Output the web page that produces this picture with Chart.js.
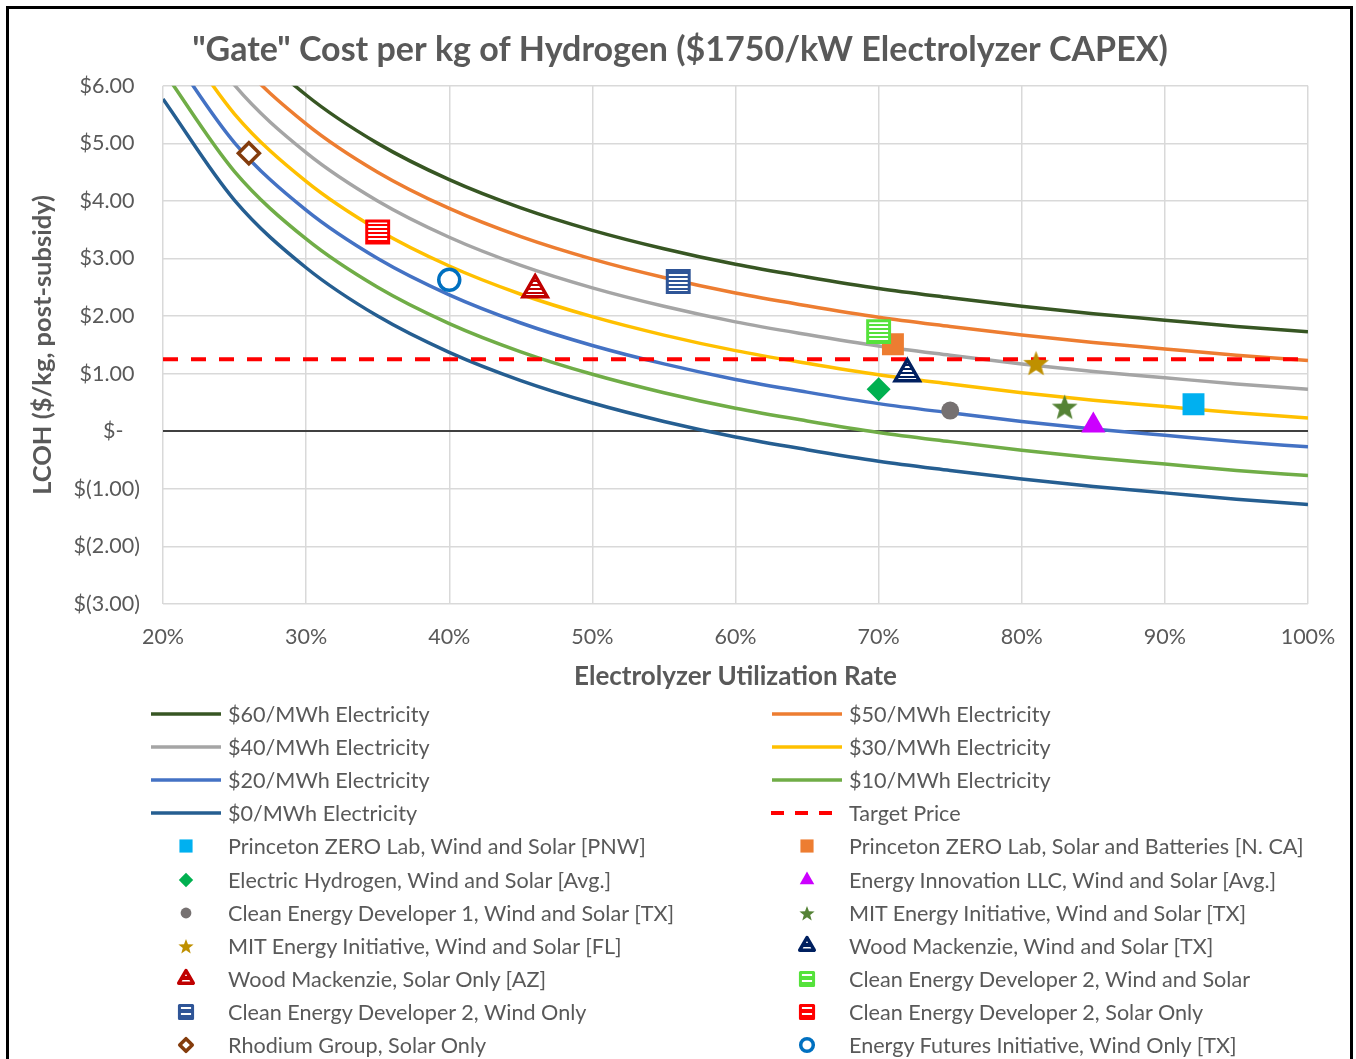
<!DOCTYPE html>
<html>
<head>
<meta charset="utf-8">
<script src="https://cdn.jsdelivr.net/npm/chart.js"></script>
<style>
  html, body { margin: 0; padding: 0; background: #fff; }
  body { width: 1356px; height: 1059px; position: relative; overflow: hidden; font-family: Lato, "Open Sans", sans-serif; }
  #frame { position: absolute; left: 6px; top: 6px; width: 1341px; height: 1100px; border: 3px solid #000; }
  #wrap { position: absolute; left: 0; top: 0; width: 1356px; height: 700px; }
  #legend { position: absolute; left: 150px; top: 697px; display: grid; grid-template-columns: 621px 585px; grid-auto-rows: 33.2px; }
  .item { display: flex; align-items: center; color: #595959; font-size: 21.6px; white-space: nowrap; }
  .item canvas { width: 72px; height: 30px; margin-right: 6px; flex: none; }
</style>
</head>
<body>
<div id="frame"></div>
<div id="wrap"><canvas id="chart"></canvas></div>
<div id="legend"></div>
<script>
// LCOH 曲线 + 各机构估算点

const utilization = [20, 25, 30, 35, 40, 45, 50, 55, 60, 65, 70, 75, 80, 85, 90, 95, 100];

const curveLabels = ['$60/MWh Electricity', '$50/MWh Electricity', '$40/MWh Electricity', '$30/MWh Electricity',
                     '$20/MWh Electricity', '$10/MWh Electricity', '$0/MWh Electricity'];
const curveColors = ['#375623', '#ED7D31', '#A5A5A5', '#FFC000', '#4472C4', '#70AD47', '#255E91'];

const lcoh60 = [8.77, 7.01, 5.84, 5.00, 4.37, 3.88, 3.49, 3.17, 2.90, 2.68, 2.48, 2.32, 2.17, 2.04, 1.93, 1.82, 1.73];
const lcoh50 = [8.27, 6.51, 5.34, 4.50, 3.87, 3.38, 2.99, 2.67, 2.40, 2.18, 1.98, 1.82, 1.67, 1.54, 1.43, 1.32, 1.23];
const lcoh40 = [7.77, 6.01, 4.84, 4.00, 3.37, 2.88, 2.49, 2.17, 1.90, 1.68, 1.48, 1.32, 1.17, 1.04, 0.93, 0.82, 0.73];
const lcoh30 = [7.27, 5.51, 4.34, 3.50, 2.87, 2.38, 1.99, 1.67, 1.40, 1.18, 0.98, 0.82, 0.67, 0.54, 0.43, 0.32, 0.23];
const lcoh20 = [6.77, 5.01, 3.84, 3.00, 2.37, 1.88, 1.49, 1.17, 0.90, 0.68, 0.48, 0.32, 0.17, 0.04, -0.07, -0.18, -0.27];
const lcoh10 = [6.27, 4.51, 3.34, 2.50, 1.87, 1.38, 0.99, 0.67, 0.40, 0.18, -0.02, -0.18, -0.33, -0.46, -0.57, -0.68, -0.77];
const lcoh0  = [5.77, 4.01, 2.84, 2.00, 1.37, 0.88, 0.49, 0.17, -0.10, -0.32, -0.52, -0.68, -0.83, -0.96, -1.07, -1.18, -1.27];
const curveValues = [lcoh60, lcoh50, lcoh40, lcoh30, lcoh20, lcoh10, lcoh0];

const targetX = [20, 100];
const targetY = [1.25, 1.25];

const markerNames = [
  'Princeton ZERO Lab, Wind and Solar [PNW]',
  'Princeton ZERO Lab, Solar and Batteries [N. CA]',
  'Electric Hydrogen, Wind and Solar [Avg.]',
  'Energy Innovation LLC, Wind and Solar [Avg.]',
  'Clean Energy Developer 1, Wind and Solar [TX]',
  'MIT Energy Initiative, Wind and Solar [TX]',
  'MIT Energy Initiative, Wind and Solar [FL]',
  'Wood Mackenzie, Wind and Solar [TX]',
  'Wood Mackenzie, Solar Only [AZ]',
  'Clean Energy Developer 2, Wind and Solar',
  'Clean Energy Developer 2, Wind Only',
  'Clean Energy Developer 2, Solar Only',
  'Rhodium Group, Solar Only',
  'Energy Futures Initiative, Wind Only [TX]',
];
const markerX = [92, 71, 70, 85, 75, 83, 81, 72, 46, 70, 56, 35, 26, 40];
const markerY = [0.47, 1.51, 0.73, 0.10, 0.36, 0.42, 1.18, 1.00, 2.46, 1.73, 2.60, 3.46, 4.83, 2.63];
const markerColors = ['#00B0F0', '#ED7D31', '#00B050', '#CC00FF', '#767171', '#548235', '#BF9000',
                      '#002060', '#C00000', '#55E23B', '#2F5597', '#FF0000', '#843C0C', '#0070C0'];
const markerShapes = ['square', 'square', 'diamond', 'triangle', 'circle', 'star', 'star',
                      'stripedTriangle', 'stripedTriangle', 'stripedSquare', 'stripedSquare', 'stripedSquare',
                      'hollowDiamond', 'hollowCircle'];

const TEXT = '#595959';
const FONT = 'Lato, "Open Sans", sans-serif';

// ── 标记样式 ─────────────────────────────────────────────
function stripes(ctx, color, period) {
  const c = document.createElement('canvas');
  c.width = 4; c.height = period;
  const g = c.getContext('2d');
  g.fillStyle = color; g.fillRect(0, 0, 4, period);
  g.fillStyle = '#fff'; g.fillRect(0, period - 2, 4, 2);
  return ctx.createPattern(c, 'repeat');
}

function starImage(color, size) {
  const c = document.createElement('canvas');
  c.width = c.height = size;
  const g = c.getContext('2d');
  const R = size / 2, r = R * 0.42;
  g.beginPath();
  for (let i = 0; i < 10; i++) {
    const a = -Math.PI / 2 + i * Math.PI / 5;
    const rr = i % 2 ? r : R;
    g.lineTo(R + rr * Math.cos(a), R + 1 + rr * Math.sin(a));
  }
  g.closePath();
  g.fillStyle = color;
  g.fill();
  return c;
}

// k: 尺寸缩放, w: 边框宽度缩放, p: 条纹周期
function markerStyle(shape, color, k, w, p, ctx) {
  switch (shape) {
    case 'square':          return { pointStyle: 'rect', radius: 15.5 * k, bg: color, border: color, bw: 0 };
    case 'diamond':         return { pointStyle: 'rectRot', radius: 12 * k, bg: color, border: color, bw: 0 };
    case 'triangle':        return { pointStyle: 'triangle', radius: 14 * k, bg: color, border: color, bw: 0 };
    case 'circle':          return { pointStyle: 'circle', radius: 9 * k, bg: color, border: color, bw: 0 };
    case 'star':            return { pointStyle: starImage(color, Math.round(27 * k)), radius: 13 * k, bg: color, border: color, bw: 0 };
    case 'stripedTriangle': return { pointStyle: 'triangle', radius: 14 * k, bg: stripes(ctx, color, p), border: color, bw: 3.5 * w };
    case 'stripedSquare':   return { pointStyle: 'rect', radius: 15.5 * k, bg: stripes(ctx, color, p), border: color, bw: 3 * w };
    case 'hollowDiamond':   return { pointStyle: 'rectRot', radius: 10.5 * k, bg: '#fff', border: color, bw: 3.5 * w };
    case 'hollowCircle':    return { pointStyle: 'circle', radius: 10.5 * k, bg: '#fff', border: color, bw: 3.5 * w };
  }
}

// ── datasets ─────────────────────────────────────────────
const canvas = document.getElementById('chart');
const ctx = canvas.getContext('2d');
const datasets = [];

curveLabels.forEach((label, i) => {
  datasets.push({
    label,
    data: utilization.map((u, j) => ({ x: u, y: curveValues[i][j] })),
    borderColor: curveColors[i],
    backgroundColor: curveColors[i],
    borderWidth: 3.5,
    pointRadius: 0,
    cubicInterpolationMode: 'monotone',
    fill: false,
  });
});

datasets.push({
  label: 'Target Price',
  data: targetX.map((x, j) => ({ x, y: targetY[j] })),
  borderColor: '#FF0000',
  backgroundColor: '#FF0000',
  borderWidth: 4,
  borderDash: [15, 13],
  pointRadius: 0,
  fill: false,
});

markerNames.forEach((name, i) => {
  const s = markerStyle(markerShapes[i], markerColors[i], 1, 1, 4, ctx);
  datasets.push({
    label: name,
    data: [{ x: markerX[i], y: markerY[i] }],
    showLine: false,
    pointStyle: s.pointStyle,
    pointRadius: s.radius,
    pointBackgroundColor: s.bg,
    pointBorderColor: s.border,
    pointBorderWidth: s.bw,
    backgroundColor: s.bg,
    borderColor: s.border,
    _shape: markerShapes[i],
    _color: markerColors[i],
  });
});

// 后面的系列画在上层
datasets.forEach((d, i) => { d.order = -i; });

const chart = new Chart(canvas, {
  type: 'line',
  data: { datasets },
  options: {
    responsive: true,
    maintainAspectRatio: false,
    animation: false,
    events: [],
    layout: { padding: { left: 52, right: 48, top: 15, bottom: 0 } },
    plugins: {
      legend: { display: false },
      tooltip: { enabled: false },
      title: {
        display: true,
        text: '"Gate" Cost per kg of Hydrogen ($1750/kW Electrolyzer CAPEX)',
        color: TEXT,
        font: { family: FONT, size: 34, weight: 'bold' },
        padding: { top: 15, bottom: 15 },
      },
    },
    scales: {
      x: {
        type: 'linear',
        min: 20,
        max: 100,
        border: { display: false },
        grid: { color: '#D9D9D9', lineWidth: 1.5, drawTicks: false },
        ticks: {
          stepSize: 10,
          padding: 20,
          color: TEXT,
          font: { family: FONT, size: 21.5 },
          callback: v => v + '%',
        },
        title: {
          display: true,
          text: 'Electrolyzer Utilization Rate',
          color: TEXT,
          font: { family: FONT, size: 26, weight: 'bold' },
          padding: { top: 0, bottom: 8 },
        },
        afterFit: s => { s.height = 96; },
      },
      y: {
        min: -3,
        max: 6,
        border: { display: false },
        grid: {
          drawTicks: false,
          color: c => (c.tick && c.tick.value === 0 ? '#404040' : '#D9D9D9'),
          lineWidth: c => (c.tick && c.tick.value === 0 ? 2 : 1.5),
        },
        ticks: {
          stepSize: 1,
          padding: 23,
          color: TEXT,
          font: { family: FONT, size: 21.5 },
          callback: v => (v === 0 ? '$-   ' : v < 0 ? `$(${(-v).toFixed(2)})` : `$${v.toFixed(2)} `),
        },
        title: {
          display: true,
          text: 'LCOH ($/kg, post-subsidy)',
          color: TEXT,
          font: { family: FONT, size: 25.5, weight: 'bold' },
          padding: { top: -25, bottom: 0 },
        },
        afterFit: s => { s.width = 111; },
      },
    },
  },
});

// ── 图例（两列） ─────────────────────────────────────────
function buildLegend() {
  const box = document.getElementById('legend');
  chart.data.datasets.forEach(ds => {
    const item = document.createElement('div');
    item.className = 'item';
    const cv = document.createElement('canvas');
    cv.width = 72; cv.height = 30;
    const g = cv.getContext('2d');
    if (ds.showLine !== false) {
      g.strokeStyle = ds.borderColor;
      g.lineWidth = ds.borderWidth;
      g.setLineDash(ds.borderDash ? [13, 11] : []);
      g.beginPath();
      g.moveTo(ds.borderDash ? 0 : 1, 15);
      g.lineTo(71, 15);
      g.stroke();
    } else {
      const s = markerStyle(ds._shape, ds._color, 0.6, 1, 6, g);
      g.fillStyle = s.bg;
      g.strokeStyle = s.border;
      g.lineWidth = s.bw;
      g.lineJoin = 'round';
      Chart.helpers.drawPoint(g, { pointStyle: s.pointStyle, radius: s.radius, borderWidth: s.bw, rotation: 0 }, 36, 15);
    }
    const span = document.createElement('span');
    span.textContent = ds.label;
    item.appendChild(cv);
    item.appendChild(span);
    box.appendChild(item);
  });
}
buildLegend();
</script>
</body>
</html>
